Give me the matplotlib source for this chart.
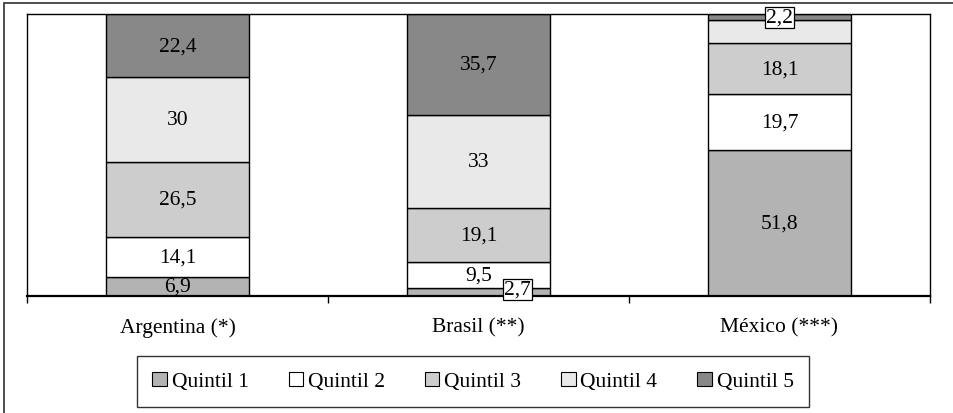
import matplotlib
matplotlib.use("Agg")
import matplotlib.pyplot as plt
from matplotlib.patches import Patch, Rectangle
import numpy as np

plt.rcParams['font.family'] = ['Liberation Serif', 'DejaVu Serif']

countries = ["Argentina (*)", "Brasil (**)", "México (***)"]
series_names = ["Quintil 1", "Quintil 2", "Quintil 3", "Quintil 4", "Quintil 5"]
quintil_1 = [6.9, 2.7, 51.8]
quintil_2 = [14.1, 9.5, 19.7]
quintil_3 = [26.5, 19.1, 18.1]
quintil_4 = [30.0, 33.0, 8.2]
quintil_5 = [22.4, 35.7, 2.2]
# which segment values carry a printed label (México's Quintil 4 has none)
show_label = [
    [True, True, True],
    [True, True, True],
    [True, True, True],
    [True, True, False],
    [True, True, True],
]

colors = ["#b3b3b3", "#ffffff", "#cdcdcd", "#e9e9e9", "#888888"]
FS = 15.5

series = [quintil_1, quintil_2, quintil_3, quintil_4, quintil_5]
data = np.array(series, dtype=float)
totals = data.sum(axis=0)
shares = data / totals * 100  # 100% stacked

W, H = 954, 414
fig = plt.figure(figsize=(W / 100, H / 100), dpi=100)
ax = fig.add_axes([27 / W, 1 - 297 / H, 903 / W, 282 / H])

x = np.arange(len(countries))
bar_w = 0.475
bottom = np.zeros(len(countries))
for i, (name, vals) in enumerate(zip(series_names, shares)):
    ax.bar(x, vals, bar_w, bottom=bottom, color=colors[i], edgecolor="black",
           linewidth=1.0, zorder=2)
    for j in range(len(countries)):
        if not show_label[i][j]:
            continue
        raw = data[i][j]
        txt = f"{raw:g}".replace(".", ",")
        yc = bottom[j] + vals[j] / 2
        if vals[j] < 4:
            dx = 28 if j == 1 else 0
            ax.annotate(txt, (x[j], yc), xytext=(dx, 2 if j == 1 else 0),
                        textcoords="offset points", ha="center", va="center",
                        fontsize=FS, zorder=5,
                        bbox=dict(boxstyle="square,pad=0.05", fc="white",
                                  ec="black", lw=0.9))
        else:
            ax.text(x[j], yc, txt, ha="center", va="center", fontsize=FS, zorder=5)
    bottom += vals

ax.set_xlim(-0.5, len(countries) - 0.5)
ax.set_ylim(0, 100)
ax.set_yticks([])
ax.set_xticks(x)
ax.set_xticklabels(countries, fontsize=FS)
ax.tick_params(axis="x", which="major", length=0, pad=15.5)
ax.set_xticks(np.arange(-0.5, len(countries), 1.0), minor=True)
ax.tick_params(axis="x", which="minor", length=5, width=1.0, direction="out")
for s in ["left", "top", "right"]:
    ax.spines[s].set_linewidth(1.0)
    ax.spines[s].set_color("black")
ax.spines["bottom"].set_linewidth(1.6)

# outer chart frame
fig.patches.append(Rectangle((4.5 / W, -0.2), 2.0, 1.2 - 3.5 / H,
                             transform=fig.transFigure, fill=False,
                             ec="#404040", lw=1.3, zorder=0))

handles = [Patch(facecolor=c, edgecolor="black", linewidth=0.8) for c in colors]
leg = fig.legend(handles, series_names, loc="center",
                 bbox_to_anchor=(473 / W, 1 - 382.5 / H), ncol=5, fontsize=FS,
                 frameon=True, fancybox=False, edgecolor="black",
                 handlelength=0.68, handleheight=0.68, handletextpad=0.22,
                 columnspacing=1.85, borderpad=0.7, borderaxespad=0)
leg.get_frame().set_linewidth(1.0)

fig.savefig("out.png", dpi=100)
